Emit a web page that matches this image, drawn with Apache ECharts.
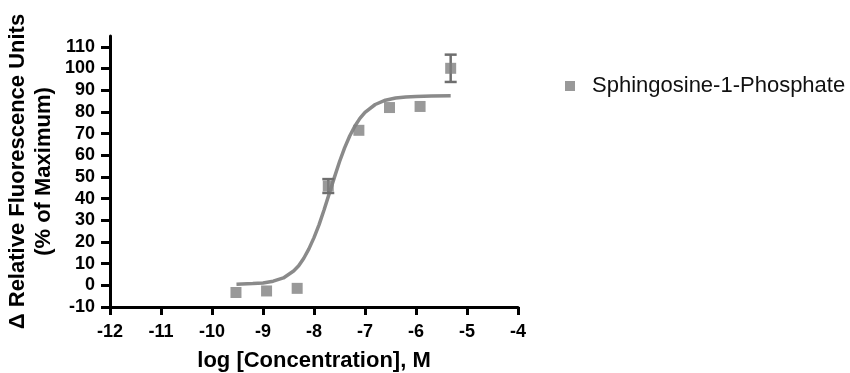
<!DOCTYPE html>
<html>
<head>
<meta charset="utf-8">
<script src="https://cdn.jsdelivr.net/npm/echarts@6/dist/echarts.min.js"></script>
<style>
html,body{margin:0;padding:0;background:#fff;}
#chart{width:850px;height:373px;}
</style>
</head>
<body>
<div id="chart"></div>
<script>
// ---- data ----
var seriesName = 'Sphingosine-1-Phosphate';
var logConc = [-9.53, -8.93, -8.33, -7.72, -7.12, -6.52, -5.92, -5.32];
var response = [-3.3, -2.6, -1.4, 45.8, 71.5, 82.0, 82.5, 100.1];
var responseErr = [0, 0, 0, 3.2, 0, 0, 0, 6.3];
var fitX = [-9.52, -9.2, -9.0, -8.8, -8.6, -8.4, -8.3, -8.2, -8.1, -8.0, -7.9, -7.8, -7.7, -7.6, -7.5, -7.4, -7.3, -7.2, -7.1, -7.0, -6.8, -6.6, -6.4, -6.2, -6.0, -5.7, -5.32];
var fitY = [0.5, 0.8, 1.1, 1.9, 3.4, 6.6, 9.0, 12.5, 16.8, 22.0, 28.0, 35.0, 42.4, 49.8, 57.0, 63.4, 68.9, 73.4, 77.0, 79.8, 83.4, 85.4, 86.4, 86.9, 87.1, 87.3, 87.4];
var yTicks = [-10, 0, 10, 20, 30, 40, 50, 60, 70, 80, 90, 100, 110];
var xTitle = 'log [Concentration], M';
var yTitle = '\u0394 Relative Fluorescence Units\n(% of Maximum)';

var FONT = '"Liberation Sans", Arial, Helvetica, sans-serif';
var chart = echarts.init(document.getElementById('chart'), null, {renderer: 'canvas'});

var pts = logConc.map(function (x, i) { return [x, response[i]]; });
var errData = logConc.map(function (x, i) { return [x, response[i], responseErr[i]]; });
var fit = fitX.map(function (x, i) { return [x, fitY[i]]; });

var option = {
  animation: false,
  backgroundColor: '#ffffff',
  grid: {left: 110, right: 332, top: 36, bottom: 66, containLabel: false, outerBoundsMode: 'none'},
  legend: {
    left: 560, top: 70,
    itemWidth: 10, itemHeight: 10,
    icon: 'rect',
    data: [seriesName],
    textStyle: {fontFamily: FONT, fontSize: 22, color: '#111', padding: [0, 0, 0, 12]}
  },
  xAxis: {
    type: 'value', min: -12, max: -4, interval: 1,
    name: xTitle, nameLocation: 'middle', nameGap: 43,
    nameTextStyle: {fontFamily: FONT, fontSize: 22, fontWeight: 'bold', color: '#000'},
    axisLine: {show: true, onZero: false, lineStyle: {color: '#000', width: 3}},
    axisTick: {show: true, length: 8, lineStyle: {color: '#000', width: 3}},
    axisLabel: {fontFamily: FONT, fontSize: 18, fontWeight: 'bold', color: '#000', margin: 16},
    splitLine: {show: false}
  },
  yAxis: {
    type: 'value', min: -10, max: 115, interval: 10,
    name: yTitle, nameLocation: 'middle', nameGap: 53, nameRotate: 90,
    nameTextStyle: {fontFamily: FONT, fontSize: 22, fontWeight: 'bold', color: '#000', lineHeight: 26, align: 'center'},
    axisLine: {show: true, onZero: false, lineStyle: {color: '#000', width: 3}},
    axisTick: {show: true, length: 9, lineStyle: {color: '#000', width: 3}, customValues: yTicks},
    axisLabel: {fontFamily: FONT, fontSize: 18, fontWeight: 'bold', color: '#000', margin: 15, customValues: yTicks},
    splitLine: {show: false}
  },
  series: [
    {
      name: 'fit', type: 'line', data: fit, showSymbol: false, symbol: 'none',
      lineStyle: {color: '#8a8a8a', width: 3.5}, z: 2, silent: true
    },
    {
      name: 'err', type: 'custom', data: errData, z: 3, silent: true,
      renderItem: function (params, api) {
        var x = api.value(0), y = api.value(1), e = api.value(2);
        if (!(e > 0)) return null;
        var top = api.coord([x, y + e]);
        var bot = api.coord([x, y - e]);
        var hw = 6;
        var st = {stroke: '#6e6e6e', lineWidth: 2.5};
        return {
          type: 'group',
          children: [
            {type: 'line', shape: {x1: top[0], y1: top[1], x2: bot[0], y2: bot[1]}, style: st},
            {type: 'line', shape: {x1: top[0] - hw, y1: top[1], x2: top[0] + hw, y2: top[1]}, style: st},
            {type: 'line', shape: {x1: bot[0] - hw, y1: bot[1], x2: bot[0] + hw, y2: bot[1]}, style: st}
          ]
        };
      }
    },
    {
      name: seriesName, type: 'scatter', data: pts, symbol: 'rect', symbolSize: 11,
      itemStyle: {color: '#7f7f7f'}, z: 4
    }
  ]
};
chart.setOption(option);
</script>
</body>
</html>
